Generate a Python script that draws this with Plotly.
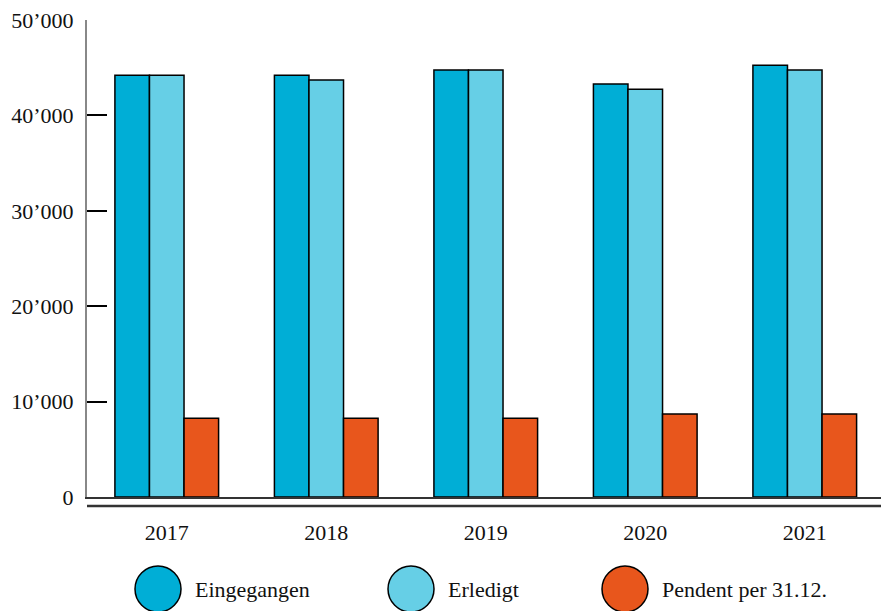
import plotly.graph_objects as go

years = ["2017", "2018", "2019", "2020", "2021"]
eingegangen = [44200, 44200, 44750, 43300, 45250]
erledigt = [44200, 43700, 44750, 42750, 44750]
pendent = [8250, 8250, 8250, 8700, 8700]

series_names = ["Eingegangen", "Erledigt", "Pendent per 31.12."]
colors = ["#00AED6", "#66CFE6", "#E8561C"]

ytick_vals = [0, 10000, 20000, 30000, 40000, 50000]
ytick_text = ["0", "10’000", "20’000", "30’000", "40’000", "50’000"]

W, H = 881, 611
ML, MR, MT, MB = 87, 0, 20, 114
PW = W - ML - MR
PH = H - MT - MB

def px_x(x):
    return (x - ML) / PW

def px_y(y):
    return (H - MB - y) / PH

font = dict(family="Liberation Serif, Times New Roman, serif", size=22, color="#111111")

fig = go.Figure()
for name, vals, c in zip(series_names, [eingegangen, erledigt, pendent], colors):
    fig.add_trace(go.Bar(
        x=years, y=vals, name=name,
        marker=dict(color=c, line=dict(color="#000000", width=1.5)),
        showlegend=False,
    ))

shapes = []
# second baseline
shapes.append(dict(type="line", xref="paper", yref="paper",
                   x0=0, x1=1, y0=px_y(506), y1=px_y(506),
                   line=dict(color="#333333", width=2.5)))

annotations = []
legend_items = [(158, 193), (411, 446), (625, 660)]
cy = 589
for (cx, tx), name, c in zip(legend_items, series_names, colors):
    shapes.append(dict(type="circle", xref="paper", yref="paper",
                       xsizemode="pixel", ysizemode="pixel",
                       xanchor=px_x(cx), yanchor=px_y(cy),
                       x0=-23, x1=23, y0=-23, y1=23,
                       fillcolor=c, line=dict(color="#000000", width=1.5)))
    annotations.append(dict(xref="paper", yref="paper", x=px_x(tx), y=px_y(cy),
                            xanchor="left", yanchor="middle", text=name,
                            showarrow=False, font=font))

fig.update_layout(
    width=W, height=H,
    margin=dict(l=ML, r=MR, t=MT, b=MB, pad=0),
    paper_bgcolor="white", plot_bgcolor="white",
    barmode="group", bargap=0.35, bargroupgap=0,
    font=font,
    shapes=shapes, annotations=annotations,
    xaxis=dict(range=[-0.5, 4.478], showgrid=False, zeroline=False,
               showline=True, linecolor="#333333", linewidth=2,
               ticks="", tickfont=font, ticklabelstandoff=15),
    yaxis=dict(range=[0, 50000], showgrid=False, zeroline=False,
               showline=True, linecolor="#888888", linewidth=2,
               tickvals=ytick_vals, ticktext=ytick_text,
               ticks="inside", ticklen=20, tickwidth=1.5, tickcolor="#000000",
               tickfont=font, ticklabelstandoff=7),
)

fig.write_html("out.html", config={"displayModeBar": False},
               post_script="document.body.style.margin='0';document.body.style.overflow='hidden';")
